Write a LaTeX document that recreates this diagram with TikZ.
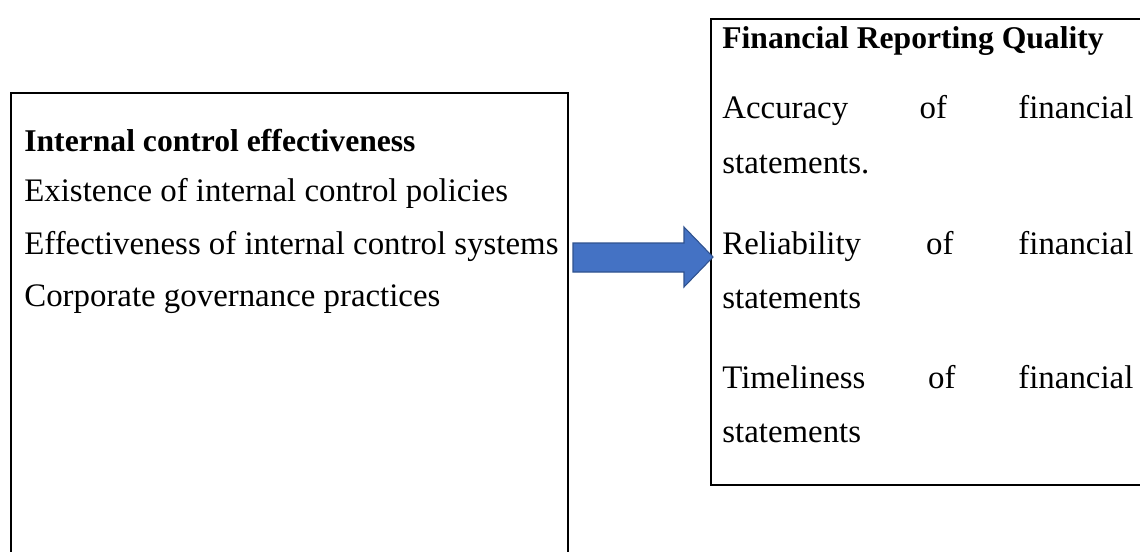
\documentclass[tikz,border=0pt]{standalone}
\usepackage{fontspec}
\setmainfont{Liberation Serif}
\definecolor{arrowblue}{HTML}{4472C4}
\definecolor{arrowedge}{HTML}{2F528F}
\tikzset{
  boxline/.style={line width=1.2pt},
  item/.style={anchor=base west, inner sep=0pt, font=\fontsize{18.7}{22}\selectfont},
  head/.style={item, font=\fontsize{18}{22}\selectfont\bfseries},
}
\newcommand{\spread}[1]{\makebox[8.22cm][s]{#1}}
\begin{document}
\begin{tikzpicture}
\useasboundingbox (0,0) rectangle (22.8,-11.02);
\clip (0,0) rectangle (22.8,-11.02);
% the two boxes run off the page edge
\draw[boxline] (0.22,-1.86) rectangle (11.36,-12);
\draw[boxline] (14.22,-0.38) rectangle (24,-9.70);
% block arrow between them
\filldraw[fill=arrowblue, draw=arrowedge, line width=0.6pt]
  (11.46,-4.86)--(13.68,-4.86)--(13.68,-4.54)--(14.26,-5.14)
  --(13.68,-5.74)--(13.68,-5.44)--(11.46,-5.44)--cycle;
% left box
\node[head] (ictitle) at (0.48,-3.02) {Internal control effectiveness};
\foreach \t/\y [count=\i] in {Existence of internal control policies/-4.02,
    Effectiveness of internal control systems/-5.08,
    Corporate governance practices/-6.12}
{
    \node[item] (ic\i) at (0.48,\y) {\t};
}
% right box, justified lines
\node[head] (frqtitle) at (14.44,-0.96) {Financial Reporting Quality};
\foreach \t/\y [count=\i] in {{\spread{Accuracy of financial}}/-2.37,
    statements./-3.47,
    {\spread{Reliability of financial}}/-5.09,
    statements/-6.17,
    {\spread{Timeliness of financial}}/-7.77,
    statements/-8.85}
{
    \node[item] (frq\i) at (14.44,\y) {\t};
}
\end{tikzpicture}
\end{document}
